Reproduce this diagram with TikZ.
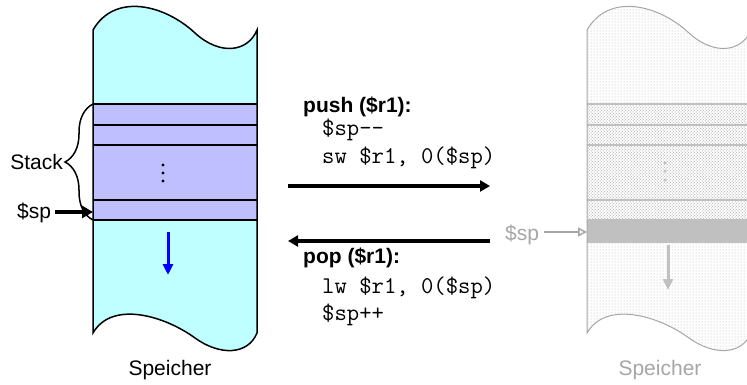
\documentclass[tikz,border=0pt]{standalone}
\usepackage{fontspec}
\setmainfont{Liberation Sans}
\usepackage{tikz}
\usetikzlibrary{arrows.meta,decorations.pathreplacing,patterns}

\definecolor{speicher}{HTML}{BFFFFF}
\definecolor{stapel}{HTML}{BFBFFF}
\definecolor{blass}{HTML}{A6A6A6}
\definecolor{blassband}{HTML}{C0C0C0}

\begin{document}
\begin{tikzpicture}[x=1pt,y=-1pt,
  every node/.style={font=\fontsize{21}{25}\selectfont},
  txt/.style={anchor=base west,inner sep=0pt},
  code/.style={txt,font=\fontsize{24}{28}\selectfont\ttfamily},
  titel/.style={txt,font=\fontsize{21}{25}\selectfont\bfseries},
  dick/.style={line width=4pt,-{Triangle[length=10pt,width=11pt]}},
  band/.style={line width=2pt}]

\useasboundingbox (0,0) rectangle (747,385);
\clip (0,0) rectangle (747,385);

\fill[speicher] (93,30) .. controls (115,-8) and (165,5) .. (195,33) .. controls (220,56) and (248,52) .. (257,30) -- (257,333) .. controls (248,355) and (220,356) .. (195,338) .. controls (165,316) and (112,300) .. (93,333) -- cycle;
\fill[stapel] (93,104) rectangle (257,220);
\foreach \y in {104,125,145,200,220}
  \draw[band] (93,\y) -- (257,\y);
\draw[line width=1.5pt] (93,30) .. controls (115,-8) and (165,5) .. (195,33) .. controls (220,56) and (248,52) .. (257,30) -- (257,333) .. controls (248,355) and (220,356) .. (195,338) .. controls (165,316) and (112,300) .. (93,333) -- cycle;
\foreach \y in {165,173,181}
  \fill (163,\y) circle (1.6pt);
\draw[blue,line width=3pt,-{Triangle[length=11pt,width=10pt]}] (168,232) -- (168,275);

\draw[line width=1.5pt,decorate,decoration={brace,amplitude=28pt}] (93,220) -- (93,104);
\node[txt,anchor=base east] (stack) at (63,170) {Stack};
\node[txt] (sp) at (17,218) {\$sp};
\coordinate (spz) at (93,212);
\path (sp.east) ++(4,0) coordinate (sp0);
\draw[line width=3.5pt,-{Triangle[length=11pt,width=12pt]}] (sp0 |- spz) -- (spz);
\node[anchor=base] (mem) at (170,375) {Speicher};

\node[titel] (push) at (303,113) {push (\$r1):};
\node[code] (c1) at (322,136) {\$sp-{}-};
\node[code] (c2) at (322,164) {sw \$r1, 0(\$sp)};
\coordinate (pa) at (288,186);
\coordinate (pb) at (490,186);
\draw[dick] (pa) -- (pb);
\coordinate (qa) at (490,241);
\coordinate (qb) at (288,241);
\draw[dick] (qa) -- (qb);
\node[titel] (pop) at (303,263) {pop (\$r1):};
\node[code] (c3) at (322,293) {lw \$r1, 0(\$sp)};
\node[code] (c4) at (322,320) {\$sp+{}+};

\begin{scope}[xshift=494pt]
\fill[white] (93,30) .. controls (115,-8) and (165,5) .. (195,33) .. controls (220,56) and (248,52) .. (257,30) -- (257,333) .. controls (248,355) and (220,356) .. (195,338) .. controls (165,316) and (112,300) .. (93,333) -- cycle;
\fill[pattern=dots,pattern color=gray!60] (93,30) .. controls (115,-8) and (165,5) .. (195,33) .. controls (220,56) and (248,52) .. (257,30) -- (257,333) .. controls (248,355) and (220,356) .. (195,338) .. controls (165,316) and (112,300) .. (93,333) -- cycle;
\fill[pattern=crosshatch dots,pattern color=gray!60] (93,104) rectangle (257,219);
\foreach \y in {104,125,145,200}
  \draw[band,blassband] (93,\y) -- (257,\y);
\fill[blassband] (93,219) rectangle (257,243);
\draw[blass,line width=1pt] (93,30) .. controls (115,-8) and (165,5) .. (195,33) .. controls (220,56) and (248,52) .. (257,30) -- (257,333) .. controls (248,355) and (220,356) .. (195,338) .. controls (165,316) and (112,300) .. (93,333) -- cycle;
\end{scope}
\foreach \y in {163,171,180}
  \fill[blassband] (665,\y) circle (1.6pt);
\draw[blassband,line width=3pt,-{Triangle[length=11pt,width=10pt]}] (668,245) -- (668,290);

\node[txt,text=blass] (sp2) at (505,240) {\$sp};
\coordinate (spz2) at (587,232);
\path (sp2.east) ++(5,0) coordinate (sp3);
\draw[blass,line width=1.5pt,-{Triangle[open,length=9pt,width=9pt]}] (sp3 |- spz2) -- (spz2);
\node[anchor=base,text=blass] (mem2) at (660,375) {Speicher};
\end{tikzpicture}
\end{document}
